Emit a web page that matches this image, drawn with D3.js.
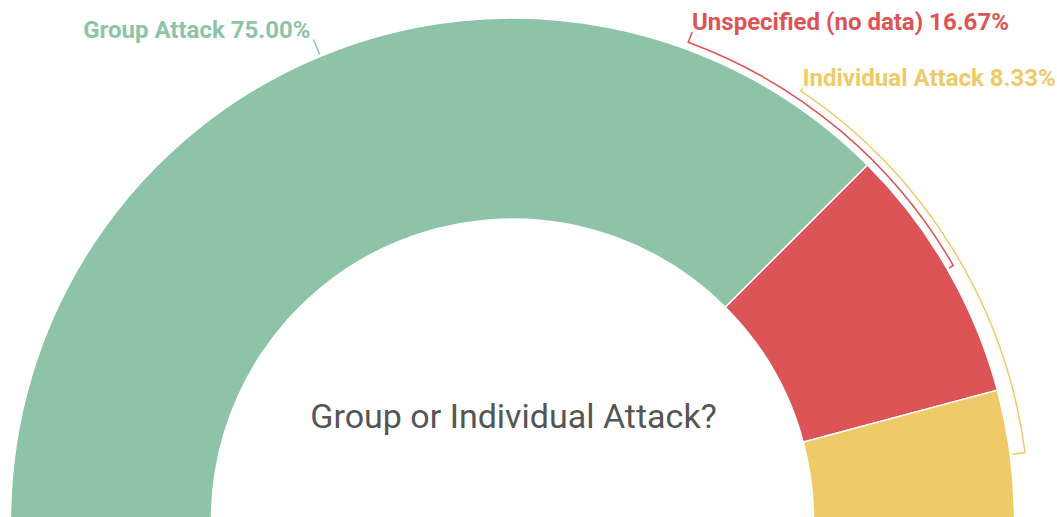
<!DOCTYPE html>
<html>
<head>
<meta charset="utf-8">
<script src="https://cdn.jsdelivr.net/npm/d3@7/dist/d3.min.js"></script>
<style>
  html, body { margin: 0; padding: 0; background: #fff; }
  svg { display: block; }
</style>
</head>
<body>
<svg id="chart" width="1057" height="517"></svg>
<script>
// ---- data ----
const categories = ["Group Attack", "Unspecified (no data)", "Individual Attack"];
const values = [75.00, 16.67, 8.33];
const title = "Group or Individual Attack?";

// ---- style / layout (not data) ----
const palette = ["#8dc3a7", "#dc5456", "#efca69"];
const W = 1057, H = 517;
const cx = 512.5, cy = 520;
const outerR = 502, innerR = 301;
const labelR = outerR + 18;
// label placement (degrees clockwise from 12 o'clock); null = at slice middle
const labelAngleDeg = [null, 20.2, 33.9];
const bracketOffset = [0, 7, 15];

const svg = d3.select("#chart");
const g = svg.append("g").attr("transform", `translate(${cx},${cy})`);

const color = d3.scaleOrdinal().domain(categories).range(palette);
const total = d3.sum(values);
const rows = categories.map((c, i) => ({ name: c, value: values[i], idx: i }));

const pie = d3.pie().value(d => d.value).sort(null)
  .startAngle(-Math.PI / 2).endAngle(Math.PI / 2);
const arcs = pie(rows);

const arc = d3.arc().innerRadius(innerR).outerRadius(outerR);

g.selectAll("path.slice").data(arcs).join("path")
  .attr("class", "slice")
  .attr("d", arc)
  .attr("fill", d => color(d.data.name))
  .attr("stroke", "#fff")
  .attr("stroke-width", 1.5);

const polar = (a, r) => [r * Math.sin(a), -r * Math.cos(a)];
const fmt = d3.format(".2f");

arcs.forEach((d, i) => {
  const mid = (d.startAngle + d.endAngle) / 2;
  const la = labelAngleDeg[i] == null ? mid : labelAngleDeg[i] * Math.PI / 180;
  const P = polar(la, labelR);
  const p = d3.path();
  p.moveTo(P[0], P[1]);
  if (Math.abs(la - mid) < 1e-6) {
    const Q = polar(mid, outerR + 2);
    p.lineTo(Q[0], Q[1]);
  } else {
    const rb = outerR + bracketOffset[i];
    const B = polar(la, rb);
    p.lineTo(B[0], B[1]);
    p.arc(0, 0, rb, la - Math.PI / 2, mid - Math.PI / 2, mid < la);
    const Q = polar(mid, outerR + 2);
    p.lineTo(Q[0], Q[1]);
  }
  g.append("path")
    .attr("d", p.toString())
    .attr("fill", "none")
    .attr("stroke", color(d.data.name))
    .attr("stroke-width", 1.5);

  const right = Math.sin(la) >= 0;
  g.append("text")
    .attr("x", P[0] + (right ? 0 : -3))
    .attr("y", P[1] - 2)
    .attr("text-anchor", right ? "start" : "end")
    .attr("font-family", "Roboto, sans-serif")
    .attr("font-size", 24)
    .attr("font-weight", 700)
    .attr("fill", color(d.data.name))
    .text(`${d.data.name} ${fmt(d.data.value / total * 100)}%`);
});

svg.append("text")
  .attr("x", cx + 1)
  .attr("y", 428)
  .attr("text-anchor", "middle")
  .attr("font-family", "Roboto, sans-serif")
  .attr("font-size", 34)
  .attr("fill", "#555")
  .text(title);
</script>
</body>
</html>
